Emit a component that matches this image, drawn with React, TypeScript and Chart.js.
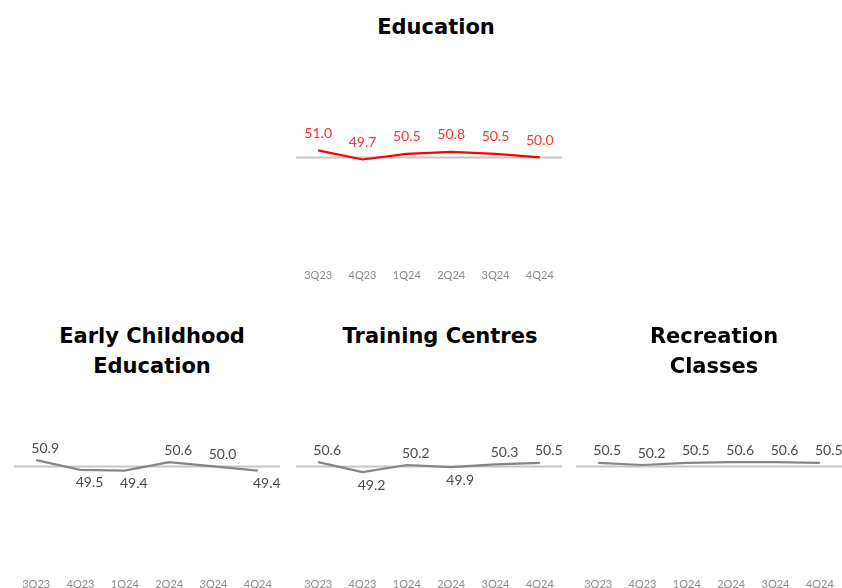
import React, { useEffect, useRef } from "react";
import { Chart, registerables } from "chart.js";

Chart.register(...registerables);

// Quarterly index readings; 50 marks the neutral level.
const quarters = ["3Q23", "4Q23", "1Q24", "2Q24", "3Q24", "4Q24"];
const education = [51.0, 49.7, 50.5, 50.8, 50.5, 50.0];
const earlyChildhood = [50.9, 49.5, 49.4, 50.6, 50.0, 49.4];
const trainingCentres = [50.6, 49.2, 50.2, 49.9, 50.3, 50.5];
const recreationClasses = [50.5, 50.2, 50.5, 50.6, 50.6, 50.5];
const neutralLevel = 50;
const axisMin = 35;
const axisMax = 65;

type PanelProps = {
  titleLines: string[];
  titleCenterX: number;
  titleY: number;
  plotLeft: number;
  values: number[];
  lineColor: string;
  labelColor: string;
  labelsAlwaysAbove: boolean;
  labelShiftX: number;
  labelOffsetAbove: number;
  labelOffsetBelow: number;
};

const PLOT_WIDTH = 266;
const PAD_X = 10;
const PAD_TOP = 10;
const CANVAS_HEIGHT = 246;

function Panel(props: PanelProps) {
  const ref = useRef<HTMLCanvasElement | null>(null);

  useEffect(() => {
    const canvas = ref.current;
    if (!canvas) return;

    const neutralLine = {
      id: "neutralLine",
      beforeDatasetsDraw(chart: any) {
        const { ctx, chartArea, scales } = chart;
        const y = scales.y.getPixelForValue(neutralLevel);
        ctx.save();
        ctx.strokeStyle = "#c6c6c6";
        ctx.lineWidth = 2;
        ctx.beginPath();
        ctx.moveTo(chartArea.left, y);
        ctx.lineTo(chartArea.right, y);
        ctx.stroke();
        ctx.restore();
      },
    };

    const valueLabels = {
      id: "valueLabels",
      afterDatasetsDraw(chart: any) {
        const { ctx } = chart;
        const meta = chart.getDatasetMeta(0);
        const data = chart.data.datasets[0].data as number[];
        ctx.save();
        ctx.font = "14px Lato";
        ctx.fillStyle = props.labelColor;
        ctx.textAlign = "center";
        ctx.textBaseline = "middle";
        meta.data.forEach((el: any, i: number) => {
          const v = data[i];
          const above = props.labelsAlwaysAbove || v >= neutralLevel;
          const y = above ? el.y - props.labelOffsetAbove : el.y + props.labelOffsetBelow;
          ctx.fillText(v.toFixed(1), el.x + props.labelShiftX, y);
        });
        ctx.restore();
      },
    };

    const chart = new Chart(canvas, {
      type: "line",
      data: {
        labels: quarters,
        datasets: [
          {
            data: props.values,
            borderColor: props.lineColor,
            borderWidth: 2.2,
            pointRadius: 0,
            tension: 0,
            fill: false,
          },
        ],
      },
      options: {
        responsive: false,
        animation: false,
        layout: { padding: { left: PAD_X, right: PAD_X, top: PAD_TOP, bottom: 0 } },
        plugins: {
          legend: { display: false },
          title: { display: false },
          tooltip: { enabled: false },
        },
        scales: {
          x: {
            offset: true,
            grid: { display: false, drawTicks: false },
            border: { display: false },
            ticks: {
              color: "#8a8a8a",
              font: { family: "Lato", size: 11 },
              padding: 6,
              maxRotation: 0,
              autoSkip: false,
            },
          },
          y: {
            display: false,
            min: axisMin,
            max: axisMax,
          },
        },
      },
      plugins: [neutralLine, valueLabels],
    });

    return () => chart.destroy();
  }, []);

  const width = PLOT_WIDTH + PAD_X * 2;
  return (
    <>
      <div
        style={{
          position: "absolute",
          left: props.titleCenterX - 160,
          top: props.titleY - 15,
          width: 320,
          textAlign: "center",
          fontFamily: "'DejaVu Sans', sans-serif",
          fontWeight: "bold",
          fontSize: 21,
          lineHeight: "30px",
          color: "#000",
        }}
      >
        {props.titleLines.map((t) => (
          <div key={t}>{t}</div>
        ))}
      </div>
      <canvas
        ref={ref}
        width={width}
        height={CANVAS_HEIGHT}
        style={{
          position: "absolute",
          left: props.plotLeft - PAD_X,
          top: props.titleY + 25 - PAD_TOP,
          width,
          height: CANVAS_HEIGHT,
        }}
      />
    </>
  );
}

export default function App() {
  const grey = {
    lineColor: "#858585",
    labelColor: "#4a4a4a",
    labelsAlwaysAbove: false,
    labelShiftX: 9,
    labelOffsetAbove: 12,
    labelOffsetBelow: 13,
  };
  return (
    <div
      style={{
        position: "fixed",
        left: 0,
        top: 0,
        width: 842,
        height: 588,
        overflow: "hidden",
        background: "#fff",
      }}
    >
      <Panel
        titleLines={["Education"]}
        titleCenterX={436}
        titleY={27}
        plotLeft={296}
        values={education}
        lineColor="#ff0000"
        labelColor="#ff3333"
        labelsAlwaysAbove={true}
        labelShiftX={0}
        labelOffsetAbove={17}
        labelOffsetBelow={13}
      />
      <Panel
        titleLines={["Early Childhood", "Education"]}
        titleCenterX={152}
        titleY={336}
        plotLeft={14}
        values={earlyChildhood}
        {...grey}
      />
      <Panel
        titleLines={["Training Centres"]}
        titleCenterX={440}
        titleY={336}
        plotLeft={296}
        values={trainingCentres}
        {...grey}
      />
      <Panel
        titleLines={["Recreation", "Classes"]}
        titleCenterX={714}
        titleY={336}
        plotLeft={576}
        values={recreationClasses}
        {...grey}
      />
    </div>
  );
}
